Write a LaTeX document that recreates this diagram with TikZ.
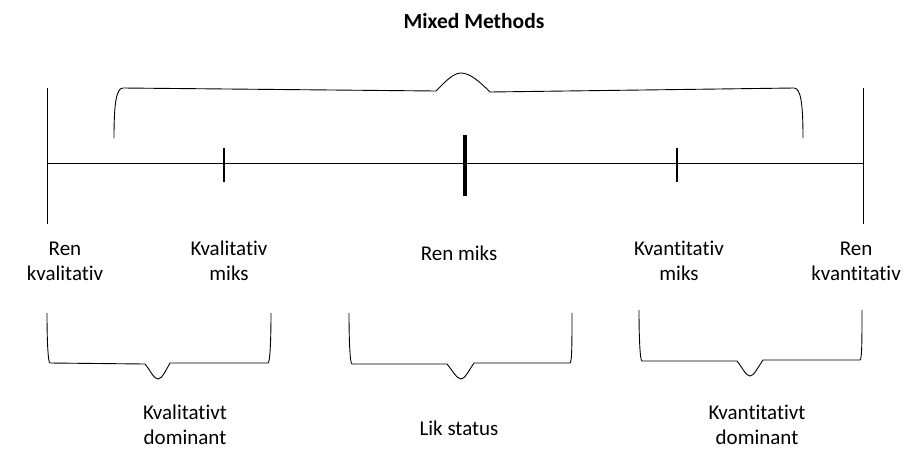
\documentclass[tikz,border=0pt]{standalone}
\usepackage{fontspec}
\setmainfont{Carlito}[Ligatures=NoCommon]
\begin{document}
\begin{tikzpicture}[x=1pt,y=-1pt,
  lbl/.style={align=center,font=\fontsize{21}{25}\selectfont,inner sep=0pt},
  brc/.style={line width=0.9pt,line join=round},
  axis/.style={line width=1pt}]
\useasboundingbox (0,0) rectangle (918,464);
% title
\node[lbl,font=\fontsize{21.5}{25}\selectfont\bfseries] (title) at (474,21) {Mixed Methods};
% axis
\draw[axis] (47,163) -- (863,163);
\draw[axis] (47,88) -- (47,224);
\draw[axis] (863,88) -- (863,224);
\draw[line width=2pt] (224,148) -- (224,182);
\draw[line width=2pt] (677,148) -- (677,182);
\draw[line width=4.5pt] (465,135) -- (465,196);
% top brace
\draw[brc] (114,138) .. controls (114,105) and (116,88) .. (123,88) -- (436,91)
  .. controls (445,82) and (453,73) .. (461,73) .. controls (470,73) and (480,82) .. (490,92)
  -- (794,88) .. controls (801,88) and (803,105) .. (803,138);
% bottom braces
\draw[brc] (47,313) .. controls (47,340) and (48,363) .. (50,363) -- (145,364)
  .. controls (150,370) and (154,379) .. (158,379) .. controls (162,379) and (166,370) .. (170,363)
  -- (268,363) .. controls (270,363) and (271,340) .. (271,313);
\draw[brc] (349,313) .. controls (349,340) and (350,364) .. (352,364) -- (447,364)
  .. controls (452,370) and (457,379) .. (461,379) .. controls (465,379) and (469,370) .. (474,363)
  -- (570,363) .. controls (572,363) and (572,340) .. (572,313);
\draw[brc] (639,310) .. controls (639,337) and (640,361) .. (642,361) -- (737,361)
  .. controls (742,367) and (746,376) .. (750,376) .. controls (754,376) and (758,367) .. (763,360)
  -- (860,360) .. controls (862,360) and (862,337) .. (862,310);
% labels
\node[lbl] (renkval) at (65,261) {Ren\\kvalitativ};
\node[lbl] (kvalmiks) at (229,261) {Kvalitativ\\miks};
\node[lbl] (renmiks) at (459,253) {Ren miks};
\node[lbl] (kvantmiks) at (679,261) {Kvantitativ\\miks};
\node[lbl] (renkvant) at (856,261) {Ren\\kvantitativ};
\node[lbl] (kvaldom) at (185,425) {Kvalitativt\\dominant};
\node[lbl] (lik) at (459,428) {Lik status};
\node[lbl] (kvantdom) at (757,425) {Kvantitativt\\dominant};
\end{tikzpicture}
\end{document}
